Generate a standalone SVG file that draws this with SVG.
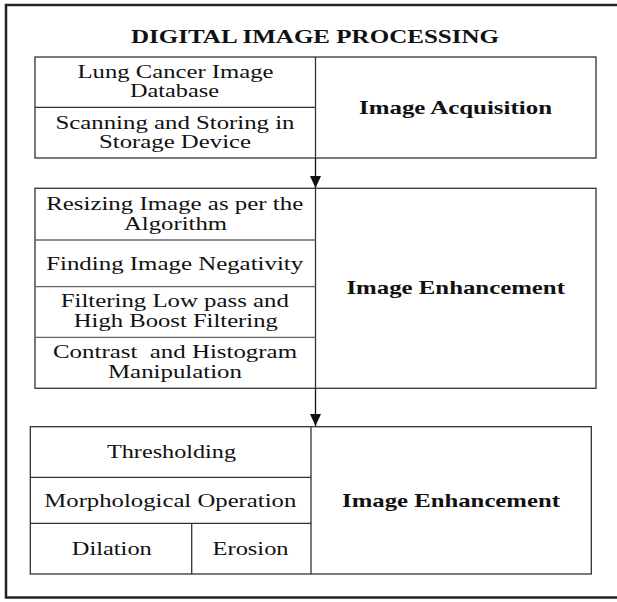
<svg xmlns="http://www.w3.org/2000/svg" width="617" height="602" viewBox="0 0 617 602">
<style>
.frame{fill:none;stroke:#222;stroke-width:2.5}
.box{fill:#fff;stroke:#333;stroke-width:1.3}
.ln{fill:none;stroke:#333;stroke-width:1.3}
.ln2{fill:none;stroke:#666;stroke-width:1.3}
.t{font-family:"Liberation Serif","Times New Roman",serif;font-size:18px;fill:#111;text-anchor:middle}
.b{font-family:"Liberation Serif","Times New Roman",serif;font-size:19px;font-weight:bold;fill:#111;text-anchor:middle}
.h{font-family:"Liberation Serif","Times New Roman",serif;font-size:19.5px;font-weight:bold;fill:#111;text-anchor:middle}
.con{fill:none;stroke:#111;stroke-width:1.3}
</style>
<defs>
<marker id="ah" markerUnits="userSpaceOnUse" markerWidth="13" markerHeight="12" refX="12" refY="5.5" orient="auto" viewBox="0 0 13 12">
<path d="M0,0 L12,5.5 L0,11 Z" fill="#111"/>
</marker>
</defs>
<rect width="617" height="602" fill="#fff"/>
<rect id="frame" class="frame" x="6" y="5" width="614" height="592.5"/>
<g id="title">
<text class="h" x="315" y="42.5" textLength="368" lengthAdjust="spacingAndGlyphs">DIGITAL IMAGE PROCESSING</text>
</g>
<g id="acquisition">
<rect class="box" x="35" y="57" width="561" height="101"/>
<line class="ln" x1="315.5" y1="57" x2="315.5" y2="158"/>
<line class="ln" x1="35" y1="107.3" x2="315.5" y2="107.3"/>
<g id="lung-db">
<text class="t" x="175.5" y="77.5" textLength="196" lengthAdjust="spacingAndGlyphs">Lung Cancer Image</text>
<text class="t" x="174.5" y="97" textLength="89" lengthAdjust="spacingAndGlyphs">Database</text>
</g>
<g id="scanning">
<text class="t" x="175" y="128.5" textLength="239" lengthAdjust="spacingAndGlyphs">Scanning and Storing in</text>
<text class="t" x="175" y="148" textLength="152" lengthAdjust="spacingAndGlyphs">Storage Device</text>
</g>
<text class="b" x="455.5" y="113.5" textLength="193" lengthAdjust="spacingAndGlyphs">Image Acquisition</text>
</g>
<g id="enhancement">
<rect class="box" x="35" y="188.3" width="561" height="200"/>
<line class="ln" x1="315.5" y1="188.3" x2="315.5" y2="388.3"/>
<line class="ln2" x1="35" y1="240" x2="315.5" y2="240"/>
<line class="ln2" x1="35" y1="286.7" x2="315.5" y2="286.7"/>
<line class="ln2" x1="35" y1="337.3" x2="315.5" y2="337.3"/>
<g id="resizing">
<text class="t" x="174.7" y="209.5" textLength="257" lengthAdjust="spacingAndGlyphs">Resizing Image as per the</text>
<text class="t" x="175.5" y="229.5" textLength="103" lengthAdjust="spacingAndGlyphs">Algorithm</text>
</g>
<g id="negativity">
<text class="t" x="174.7" y="269.5" textLength="257" lengthAdjust="spacingAndGlyphs">Finding Image Negativity</text>
</g>
<g id="filtering">
<text class="t" x="174.8" y="306.5" textLength="228" lengthAdjust="spacingAndGlyphs">Filtering Low pass and</text>
<text class="t" x="175.8" y="326.5" textLength="204" lengthAdjust="spacingAndGlyphs">High Boost Filtering</text>
</g>
<g id="contrast">
<text class="t" x="175" y="357.5" textLength="244" lengthAdjust="spacingAndGlyphs" style="white-space:pre">Contrast  and Histogram</text>
<text class="t" x="175" y="377.5" textLength="134" lengthAdjust="spacingAndGlyphs">Manipulation</text>
</g>
<text class="b" x="455.7" y="294" textLength="218.5" lengthAdjust="spacingAndGlyphs">Image Enhancement</text>
</g>
<g id="segmentation">
<rect class="box" x="30.3" y="426.7" width="561" height="147.3"/>
<line class="ln" x1="311" y1="426.7" x2="311" y2="574"/>
<line class="ln" x1="30.3" y1="477.3" x2="311" y2="477.3"/>
<line class="ln" x1="30.3" y1="523.3" x2="311" y2="523.3"/>
<line class="ln" x1="191.7" y1="523.3" x2="191.7" y2="574"/>
<g id="thresholding">
<text class="t" x="171.5" y="458" textLength="129" lengthAdjust="spacingAndGlyphs">Thresholding</text>
</g>
<g id="morphological">
<text class="t" x="170.3" y="506.8" textLength="252" lengthAdjust="spacingAndGlyphs">Morphological Operation</text>
</g>
<g id="dilation">
<text class="t" x="111.8" y="554.7" textLength="80" lengthAdjust="spacingAndGlyphs">Dilation</text>
</g>
<g id="erosion">
<text class="t" x="250.6" y="554.7" textLength="76" lengthAdjust="spacingAndGlyphs">Erosion</text>
</g>
<text class="b" x="451" y="506.5" textLength="218" lengthAdjust="spacingAndGlyphs">Image Enhancement</text>
</g>
<g id="connectors">
<line class="con" x1="315.5" y1="158" x2="315.5" y2="188" marker-end="url(#ah)"/>
<line class="con" x1="315.5" y1="388.3" x2="315.5" y2="426" marker-end="url(#ah)"/>
</g>
</svg>
